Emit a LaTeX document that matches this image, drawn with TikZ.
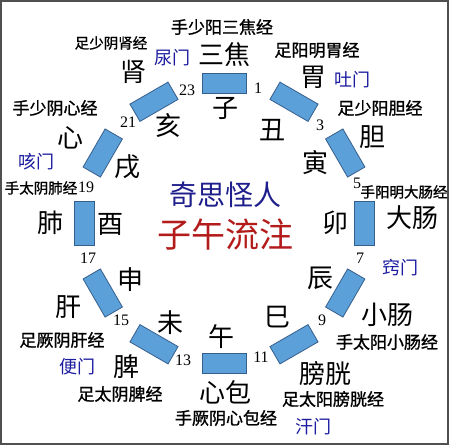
\documentclass[tikz,border=0pt]{standalone}
\usepackage{fontspec}
\setmainfont{Liberation Serif}
\newfontfamily\cjk{Noto Sans CJK SC}
\newfontfamily\cjkm{Noto Sans CJK SC}[FakeBold=1.2]
\definecolor{segfill}{RGB}{92,160,218}
\definecolor{segline}{RGB}{55,95,140}
\definecolor{menblue}{RGB}{28,28,160}
\definecolor{titleblue}{RGB}{30,30,140}
\definecolor{titlered}{RGB}{180,28,28}
\definecolor{framegray}{RGB}{80,80,80}
\begin{document}
\begin{tikzpicture}[x=1pt,y=-1pt,
  seg/.style={draw=segline, fill=segfill, line width=0.8pt, minimum width=44pt, minimum height=20pt, inner sep=0pt},
  big/.style={font=\cjk\fontsize{26}{26}\selectfont, inner sep=0pt},
  mer/.style={font=\cjkm\fontsize{17}{17}\selectfont, inner sep=0pt},
  mers/.style={font=\cjkm\fontsize{14.5}{14.5}\selectfont, inner sep=0pt},
  men/.style={font=\cjk\fontsize{18}{18}\selectfont, text=menblue, inner sep=0pt},
  num/.style={font=\fontsize{16}{16}\selectfont, inner sep=0pt}]
\useasboundingbox (0,0) rectangle (450,447);
\fill[white] (0,0) rectangle (450,447);
\draw[framegray, line width=1.5pt] (1,1) rectangle (448,444);
% segments
\foreach \k/\nm in {0/zi,1/chou,2/yin,3/mao,4/chen,5/si,6/wu,7/wei,8/shen,9/you,10/xu,11/hai}{
  \pgfmathsetmacro\a{90-30*\k}
  \pgfmathsetmacro\rr{\a-90}
  \node[seg, rotate=\rr] (r\nm) at ({224+140*cos(\a)},{223-140*sin(\a)}) {};
}
% numbers
\foreach \n/\px/\py in {1/258/88,3/320/125,5/357/183,7/360/258,9/322/320,11/261/357,13/183/360,15/121/320,17/88/258,19/86/187,21/128/122,23/187/90}{
  \node[num] (n\n) at (\px,\py) {\n};
}
% branches
\node[big] (bzi) at (225,108) {子};
\node[big] (bchou) at (272,130) {丑};
\node[big] (byin) at (315,163) {寅};
\node[big] (bmao) at (335,223) {卯};
\node[big] (bchen) at (320,278) {辰};
\node[big] (bsi) at (277,317) {巳};
\node[big] (bwu) at (221,337) {午};
\node[big] (bwei) at (170,323) {未};
\node[big] (bshen) at (130,280) {申};
\node[big] (byou) at (110,224) {酉};
\node[big] (bxu) at (127,167) {戌};
\node[big] (bhai) at (168,126) {亥};
% organs
\node[big] (osj) at (224,55) {三焦};
\node[big] (owei) at (313,77) {胃};
\node[big] (odan) at (372,137) {胆};
\node[big] (odc) at (412,218) {大肠};
\node[big] (oxc) at (387,315) {小肠};
\node[big] (opg) at (325,374) {膀胱};
\node[big] (oxb) at (225,392) {心包};
\node[big] (opi) at (126,367) {脾};
\node[big] (ogan) at (68,307) {肝};
\node[big] (ofei) at (50,223) {肺};
\node[big] (oxin) at (70,138) {心};
\node[big] (oshen) at (133,72) {肾};
% meridians
\node[mer] (msj) at (222,27) {手少阳三焦经};
\node[mer] (mwei) at (317,50) {足阳明胃经};
\node[mer] (mdan) at (380,108) {足少阳胆经};
\node[mers] (mdc) at (404,192) {手阳明大肠经};
\node[mer] (mxc) at (387,342) {手太阳小肠经};
\node[mer] (mpg) at (333,399) {足太阳膀胱经};
\node[mer] (mxb) at (226,418) {手厥阴心包经};
\node[mer] (mpi) at (120,394) {足太阴脾经};
\node[mer] (mgan) at (62,340) {足厥阴肝经};
\node[mers] (mfei) at (41,188) {手太阴肺经};
\node[mer] (mxin) at (55,108) {手少阴心经};
\node[mers] (mshen) at (111,43) {足少阴肾经};
% gates
\node[men] (gniao) at (172,58) {尿门};
\node[men] (gtu) at (352,80) {吐门};
\node[men] (gke) at (37,162) {咳门};
\node[men] (gqiao) at (400,268) {窍门};
\node[men] (gbian) at (77,367) {便门};
\node[men] (ghan) at (313,427) {汗门};
% title
\node[font=\cjk\fontsize{28}{28}\selectfont, text=titleblue, inner sep=0pt] (t1) at (225,195) {奇思怪人};
\node[font=\cjk\fontsize{34}{34}\selectfont, text=titlered, inner sep=0pt] (t2) at (225,235) {子午流注};
\end{tikzpicture}
\end{document}
